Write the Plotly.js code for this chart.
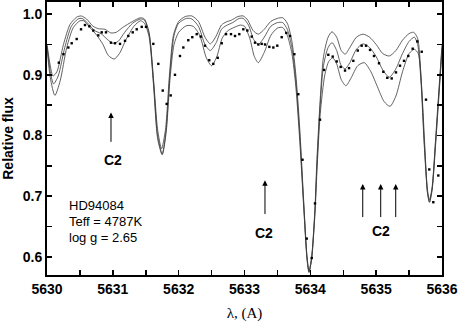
<!DOCTYPE html>
<html>
<head>
<meta charset="utf-8">
<script src="https://cdn.plot.ly/plotly-3.0.1.min.js"></script>
<style>
  html, body { margin: 0; padding: 0; background: #fff; }
  #chart { width: 458px; height: 322px; }
</style>
</head>
<body>
<div id="chart"></div>
<script>
// synthetic spectra, three models (upper / middle / lower)
const modelAWl = [5630.00, 5630.05, 5630.09, 5630.15, 5630.25, 5630.35, 5630.45, 5630.52, 5630.60, 5630.70,
  5630.78, 5630.88, 5630.97, 5631.05, 5631.15, 5631.30, 5631.42, 5631.48, 5631.55, 5631.62,
  5631.68, 5631.74, 5631.80, 5631.86, 5631.92, 5632.00, 5632.10, 5632.20, 5632.30, 5632.40,
  5632.48, 5632.56, 5632.65, 5632.72, 5632.80, 5632.90, 5632.98, 5633.05, 5633.13, 5633.21,
  5633.30, 5633.40, 5633.50, 5633.58, 5633.65, 5633.72, 5633.78, 5633.84, 5633.90, 5633.95,
  5633.98, 5634.02, 5634.07, 5634.10, 5634.15, 5634.20, 5634.27, 5634.33, 5634.40, 5634.47,
  5634.53, 5634.60, 5634.70, 5634.80, 5634.90, 5635.00, 5635.10, 5635.20, 5635.30, 5635.40,
  5635.50, 5635.57, 5635.63, 5635.68, 5635.73, 5635.78, 5635.81, 5635.85, 5635.90, 5635.95, 5636.00];
const modelAFlux = [0.950, 0.915, 0.898, 0.905, 0.950, 0.983, 0.995, 0.997, 0.992, 0.980,
  0.976, 0.975, 0.969, 0.970, 0.978, 0.988, 0.994, 0.992, 0.970, 0.890,
  0.810, 0.778, 0.810, 0.900, 0.965, 0.988, 0.996, 0.997, 0.988, 0.962,
  0.951, 0.962, 0.982, 0.987, 0.990, 0.996, 0.997, 0.990, 0.973, 0.967,
  0.975, 0.988, 0.993, 0.994, 0.985, 0.955, 0.900, 0.810, 0.690, 0.600,
  0.577, 0.600, 0.680, 0.760, 0.860, 0.930, 0.962, 0.971, 0.962, 0.940,
  0.934, 0.945, 0.962, 0.967, 0.962, 0.950, 0.935, 0.931, 0.940, 0.957,
  0.968, 0.970, 0.960, 0.900, 0.790, 0.710, 0.694, 0.715, 0.790, 0.870, 0.950];

const modelBWl = [5630.00, 5630.05, 5630.10, 5630.17, 5630.27, 5630.37, 5630.47, 5630.53, 5630.62, 5630.72,
  5630.82, 5630.92, 5631.00, 5631.08, 5631.18, 5631.30, 5631.42, 5631.48, 5631.55, 5631.62,
  5631.68, 5631.75, 5631.81, 5631.87, 5631.93, 5632.00, 5632.12, 5632.20, 5632.30, 5632.40,
  5632.48, 5632.57, 5632.65, 5632.72, 5632.82, 5632.92, 5632.98, 5633.06, 5633.14, 5633.21,
  5633.30, 5633.40, 5633.50, 5633.58, 5633.65, 5633.72, 5633.78, 5633.84, 5633.90, 5633.95,
  5633.98, 5634.02, 5634.07, 5634.10, 5634.15, 5634.20, 5634.27, 5634.33, 5634.40, 5634.47,
  5634.53, 5634.60, 5634.70, 5634.80, 5634.90, 5635.00, 5635.10, 5635.20, 5635.30, 5635.40,
  5635.50, 5635.58, 5635.63, 5635.68, 5635.73, 5635.78, 5635.81, 5635.85, 5635.90, 5635.95, 5636.00];
const modelBFlux = [0.948, 0.905, 0.885, 0.898, 0.945, 0.980, 0.992, 0.993, 0.985, 0.973,
  0.968, 0.958, 0.952, 0.955, 0.970, 0.985, 0.992, 0.990, 0.968, 0.885,
  0.800, 0.770, 0.810, 0.905, 0.965, 0.985, 0.993, 0.992, 0.980, 0.950,
  0.940, 0.953, 0.975, 0.981, 0.986, 0.993, 0.993, 0.982, 0.958, 0.950,
  0.962, 0.980, 0.986, 0.986, 0.975, 0.945, 0.890, 0.800, 0.685, 0.598,
  0.575, 0.598, 0.675, 0.750, 0.850, 0.915, 0.945, 0.953, 0.940, 0.915,
  0.910, 0.920, 0.942, 0.951, 0.945, 0.930, 0.908, 0.896, 0.910, 0.935,
  0.955, 0.962, 0.950, 0.890, 0.785, 0.705, 0.690, 0.712, 0.785, 0.865, 0.945];

const modelCWl = [5630.00, 5630.05, 5630.12, 5630.20, 5630.30, 5630.40, 5630.50, 5630.56, 5630.65, 5630.75,
  5630.85, 5630.93, 5631.02, 5631.10, 5631.20, 5631.32, 5631.42, 5631.48, 5631.55, 5631.62,
  5631.68, 5631.75, 5631.81, 5631.87, 5631.93, 5632.00, 5632.12, 5632.22, 5632.32, 5632.42,
  5632.50, 5632.58, 5632.66, 5632.74, 5632.84, 5632.94, 5633.00, 5633.08, 5633.15, 5633.21,
  5633.30, 5633.40, 5633.50, 5633.58, 5633.65, 5633.72, 5633.78, 5633.84, 5633.90, 5633.95,
  5633.98, 5634.02, 5634.07, 5634.10, 5634.15, 5634.22, 5634.28, 5634.34, 5634.40, 5634.47,
  5634.54, 5634.62, 5634.72, 5634.82, 5634.92, 5635.02, 5635.12, 5635.21, 5635.30, 5635.40,
  5635.50, 5635.58, 5635.64, 5635.69, 5635.74, 5635.78, 5635.81, 5635.85, 5635.90, 5635.95, 5636.00];
const modelCFlux = [0.945, 0.895, 0.866, 0.890, 0.945, 0.978, 0.989, 0.989, 0.978, 0.966,
  0.950, 0.932, 0.926, 0.935, 0.958, 0.980, 0.989, 0.985, 0.963, 0.880,
  0.795, 0.768, 0.805, 0.895, 0.950, 0.970, 0.981, 0.980, 0.965, 0.928,
  0.915, 0.930, 0.960, 0.972, 0.978, 0.982, 0.980, 0.960, 0.930, 0.920,
  0.937, 0.965, 0.977, 0.978, 0.965, 0.935, 0.880, 0.790, 0.680, 0.595,
  0.574, 0.596, 0.670, 0.740, 0.835, 0.900, 0.922, 0.928, 0.918, 0.892,
  0.882, 0.895, 0.915, 0.920, 0.905, 0.880, 0.856, 0.848, 0.865, 0.905,
  0.935, 0.942, 0.935, 0.880, 0.780, 0.705, 0.690, 0.710, 0.780, 0.860, 0.940];

// observed spectrum (dots)
const obsWl = [5630.18, 5630.250, 5630.324, 5630.375, 5630.451, 5630.517, 5630.577, 5630.643, 5630.703, 5630.779,
  5630.831, 5630.896, 5630.972, 5631.033, 5631.109, 5631.185, 5631.235, 5631.302, 5631.363, 5631.439,
  5631.504, 5631.615, 5631.691, 5631.758, 5631.818, 5631.879, 5631.944, 5632.020, 5632.071, 5632.146,
  5632.207, 5632.274, 5632.335, 5632.400, 5632.465, 5632.526, 5632.593, 5632.654, 5632.719, 5632.795,
  5632.856, 5632.921, 5632.982, 5633.043, 5633.110, 5633.160, 5633.210, 5633.261, 5633.312, 5633.377,
  5633.438, 5633.498, 5633.565, 5633.635, 5633.691, 5633.757, 5633.817, 5633.881, 5633.945, 5634.021,
  5634.071, 5634.147, 5634.208, 5634.273, 5634.340, 5634.401, 5634.461, 5634.527, 5634.588, 5634.653,
  5634.720, 5634.780, 5634.846, 5634.907, 5634.967, 5635.043, 5635.109, 5635.169, 5635.236, 5635.301,
  5635.362, 5635.423, 5635.488, 5635.555, 5635.625, 5635.692, 5635.757, 5635.807, 5635.868, 5635.944];
const obsFlux = [0.920, 0.934, 0.945, 0.952, 0.959, 0.975, 0.982, 0.980, 0.973, 0.965,
  0.970, 0.970, 0.953, 0.952, 0.951, 0.956, 0.964, 0.970, 0.975, 0.979,
  0.979, 0.951, 0.918, 0.874, 0.852, 0.866, 0.900, 0.931, 0.945, 0.957,
  0.962, 0.967, 0.963, 0.948, 0.924, 0.918, 0.928, 0.952, 0.967, 0.967,
  0.964, 0.967, 0.975, 0.973, 0.963, 0.953, 0.950, 0.951, 0.950, 0.946,
  0.945, 0.948, 0.962, 0.969, 0.964, 0.934, 0.868, 0.760, 0.630, 0.598,
  0.688, 0.826, 0.908, 0.933, 0.930, 0.922, 0.913, 0.907, 0.911, 0.923,
  0.940, 0.948, 0.948, 0.941, 0.931, 0.919, 0.905, 0.895, 0.894, 0.904,
  0.915, 0.923, 0.931, 0.943, 0.955, 0.938, 0.859, 0.744, 0.690, 0.734];

// C2 arrows: x position, head y, tail y
const arrowX = [5630.972, 5633.311, 5634.796, 5635.069, 5635.297];
const arrowHead = [0.838, 0.726, 0.720, 0.720, 0.720];
const arrowTail = [0.787, 0.668, 0.663, 0.663, 0.663];
const c2LabelX = [5631.00, 5633.296, 5635.074];
const c2LabelY = [0.760, 0.640, 0.642];

const infoLines = ['HD94084', 'Teff = 4787K', 'log g = 2.65'];

const lineStyle = { color: '#3a3a3a', width: 0.8, shape: 'spline', smoothing: 0.7 };
const traces = [
  [modelAWl, modelAFlux], [modelBWl, modelBFlux], [modelCWl, modelCFlux]
].map(([x, y]) => ({ x, y, mode: 'lines', line: lineStyle, hoverinfo: 'skip' }));

traces.push({
  x: obsWl, y: obsFlux, mode: 'markers',
  marker: { symbol: 'square', size: 2.4, color: '#000' }
});

const annotations = [];
arrowX.forEach((x, i) => {
  annotations.push({
    x, y: arrowHead[i], ax: x, ay: arrowTail[i],
    xref: 'x', yref: 'y', axref: 'x', ayref: 'y',
    text: '', showarrow: true, arrowhead: 2, arrowsize: 1.1, arrowwidth: 1, arrowcolor: '#000'
  });
});
c2LabelX.forEach((x, i) => {
  annotations.push({
    x, y: c2LabelY[i], xref: 'x', yref: 'y', text: 'C2', showarrow: false,
    font: { family: 'Liberation Sans, Arial, sans-serif', size: 14, weight: 'bold', color: '#000' }
  });
});
infoLines.forEach((t, i) => {
  annotations.push({
    x: 5630.30, y: 0.684 - i * 0.026, xref: 'x', yref: 'y', xanchor: 'left',
    text: t, showarrow: false,
    font: { family: 'Liberation Sans, Arial, sans-serif', size: 13, color: '#000' }
  });
});

const axisCommon = {
  showline: true, linewidth: 2, linecolor: '#000', mirror: 'ticks',
  ticks: 'inside', ticklen: 5, tickwidth: 1.5, tickcolor: '#000',
  showgrid: false, zeroline: false,
  tickfont: { family: 'Liberation Sans, Arial, sans-serif', size: 14, weight: 'bold', color: '#000' }
};

const layout = {
  width: 458, height: 322,
  margin: { l: 47, r: 16, t: 2, b: 47 },
  paper_bgcolor: '#fff', plot_bgcolor: '#fff',
  showlegend: false,
  xaxis: Object.assign({}, axisCommon, {
    range: [5630, 5636], dtick: 1, tick0: 5630,
    minor: { dtick: 0.5, ticks: 'inside', ticklen: 5, tickwidth: 1.5, tickcolor: '#000' },
    title: { text: 'λ, (A)', standoff: 12,
      font: { family: 'Liberation Serif, Times New Roman, serif', size: 15, color: '#000' } }
  }),
  yaxis: Object.assign({}, axisCommon, {
    range: [0.57, 1.02], dtick: 0.1, tick0: 0.6, tickformat: '.1f',
    minor: { dtick: 0.05, ticks: 'inside', ticklen: 5, tickwidth: 1.5, tickcolor: '#000' },
    title: { text: 'Relative flux', standoff: 8,
      font: { family: 'Liberation Sans, Arial, sans-serif', size: 14, weight: 'bold', color: '#000' } }
  }),
  annotations
};

Plotly.newPlot('chart', traces, layout, { displayModeBar: false, staticPlot: true });
</script>
</body>
</html>
